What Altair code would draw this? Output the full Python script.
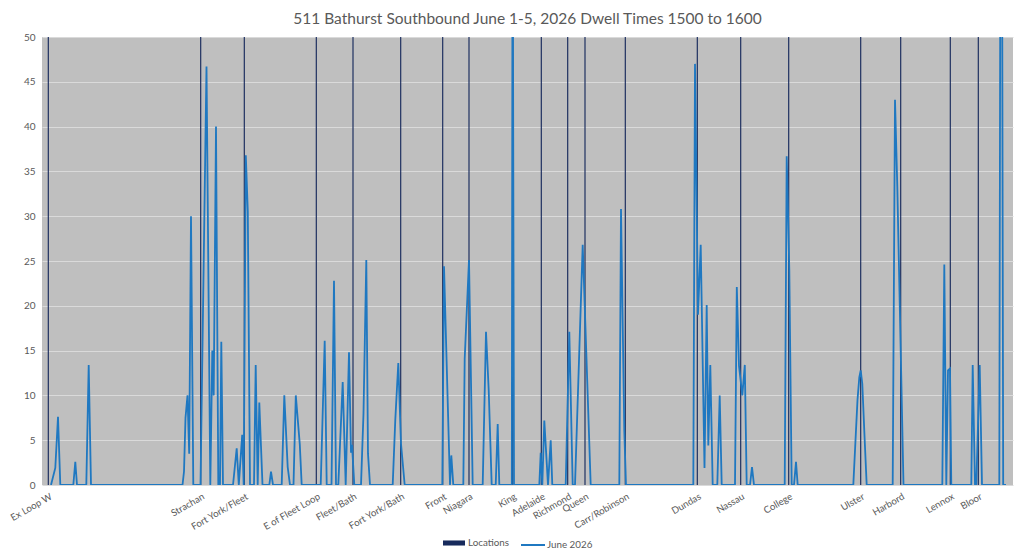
import altair as alt
import pandas as pd

title_text = "511 Bathurst Southbound June 1-5, 2026 Dwell Times 1500 to 1600"

# Locations along the route (position along the category axis)
location_names = ["Ex Loop W", "Strachan", "Fort York/Fleet", "E of Fleet Loop", "Fleet/Bath",
                  "Fort York/Bath", "Front", "Niagara", "King", "Adelaide", "Richmond", "Queen",
                  "Carr/Robinson", "Dundas", "Nassau", "College", "Ulster", "Harbord", "Lennox", "Bloor"]
location_pos = [6.3, 158.7, 202.3, 274.3, 311.0, 358.7, 400.7, 427.0, 470.7, 499.3, 525.7, 543.0,
                583.3, 655.3, 698.7, 746.7, 818.7, 858.7, 908.3, 936.3]

# June 2026 dwell times (seconds), vertices of the line
dwell_pos = [9, 13.3, 16, 18.3, 31.3, 33.3, 35, 44.3, 46.7, 49,
             140.5, 142, 143.5, 145.5, 147.2, 149, 151.3, 158.5, 164.5, 168.3,
             170.3, 171.7, 174, 176.3, 178, 179.3, 181, 191, 194.7, 196.8,
             200.2, 201.7, 203.8, 205.8, 208, 212, 213.7, 215.7, 217.3, 219,
             220.5, 227.3, 229, 231, 239.7, 242.3, 245.7, 248, 251.5, 253.8,
             257.8, 259.7, 278.7, 282.7, 284.7, 289.5, 292, 294, 296.3, 300.7,
             303.7, 307, 309, 310, 312.3, 319, 321.5, 324.3, 326, 328,
             350.7, 353.3, 356.3, 359, 362.7, 400.3, 402, 408, 409.3, 411.3,
             421.3, 422.7, 427, 430.7, 440.7, 444, 446.7, 449.7, 453.7, 455.7,
             457.3, 469.8, 470.6, 472, 497.3, 498.7, 500.3, 502.3, 506, 508.7,
             510.3, 523.7, 527.3, 530.7, 533, 540.7, 548.7, 577.3, 579, 582.3,
             584, 651.3, 653, 656, 658.7, 662.5, 664.7, 666.3, 668.3, 670.7,
             675.3, 677.7, 679.7, 693, 694.8, 697, 700.3, 702.8, 704.7, 708,
             710, 712, 742.7, 744.7, 747.3, 749.7, 752, 754, 755.7, 811.3,
             813.5, 815.5, 817.3, 818.7, 820.3, 822.5, 824.7, 850.7, 853, 855.3,
             861.5, 900.3, 902.3, 904.3, 906, 908, 909.3, 929.3, 930.7, 933,
             934.3, 937.7, 940, 957.3, 958.6, 959.8, 961.2, 964]
dwell_val = [0, 1.9, 7.6, 0, 0, 2.6, 0, 0, 13.4, 0,
             0, 1.5, 7.5, 10, 3.5, 30, 0, 0, 46.7, 0,
             15, 10, 40, 0, 0, 16, 0, 0, 4.1, 0,
             5.6, 0, 36.8, 30.5, 0, 0, 13.4, 0, 9.2, 4.3,
             0, 0, 1.5, 0, 0, 10, 2, 0, 0, 10,
             4.5, 0, 0, 16.1, 0, 0, 22.8, 0, 0, 11.5,
             0, 14.8, 3.6, 4.5, 0, 0, 8, 25.1, 3.5, 0,
             0, 7.3, 13.6, 4.6, 0, 0, 24.4, 0, 3.3, 0,
             0, 14.1, 25.1, 0, 0, 17.1, 10.6, 0, 0, 6.8,
             0, 0, 70, 0, 0, 3.6, 0, 7.2, 0, 5,
             0, 0, 17.1, 0, 0, 26.8, 0, 0, 30.8, 6,
             0, 0, 47, 19, 26.8, 1.9, 20.1, 4.4, 13.4, 0,
             0, 10, 0, 0, 22.1, 13.3, 10, 13.4, 0, 0,
             2, 0, 0, 36.7, 24, 0, 0, 2.6, 0, 0,
             5, 9.5, 12, 12.8, 11.3, 5.5, 0, 0, 43, 33.3,
             0, 0, 24.6, 0, 12.8, 13, 0, 0, 13.4, 0,
             0, 13.4, 0, 0, 75, 75, 0, 0]

y_ticks = [0, 5, 10, 15, 20, 25, 30, 35, 40, 45, 50]
location_series = "Locations"
dwell_series = "June 2026"

loc_df = pd.DataFrame({"pos": location_pos, "name": location_names, "loc_series": location_series})
dwell_df = pd.DataFrame({"pos": dwell_pos, "dwell": dwell_val, "line_series": dwell_series})

GREY_TEXT = "#595959"
FONT = "Lato"

x_scale = alt.Scale(domain=[0, 971], nice=False, zero=False, padding=0)
y_scale = alt.Scale(domain=[0, 50], nice=False, padding=0)

names_js = "[" + ",".join("'" + n + "'" for n in location_names) + "]"
pos_js = "[" + ",".join(str(p) for p in location_pos) + "]"
label_expr = f"{names_js}[indexof({pos_js}, datum.value)]"

x_axis = alt.Axis(title=None, values=location_pos, labelExpr=label_expr, labelAngle=-30,
                  labelAlign="right", labelBaseline="top", labelPadding=6, labelOverlap=False,
                  labelFlush=False, labelBound=False, ticks=False, domain=False, grid=False,
                  labelColor=GREY_TEXT, labelFont=FONT, labelFontSize=9.6)
y_axis = alt.Axis(title=None, values=y_ticks, ticks=False, domain=False, grid=True,
                  gridColor="#dadada", gridWidth=1, labelColor=GREY_TEXT, labelFont=FONT,
                  labelFontSize=10, labelPadding=7)

bars = alt.Chart(loc_df).mark_bar(size=1.15).encode(
    x=alt.X("pos:Q", scale=x_scale, axis=x_axis),
    y=alt.datum(50, scale=y_scale, axis=y_axis),
    fill=alt.Fill("loc_series:N",
                  scale=alt.Scale(domain=[location_series], range=["#172a5c"]),
                  legend=alt.Legend(title=None, orient="none", legendX=401, legendY=495,
                                    symbolType="M-1,-0.23H1V0.23H-1Z", symbolSize=484,
                                    symbolStrokeWidth=0, padding=0, labelOffset=3,
                                    labelColor=GREY_TEXT, labelFont=FONT, labelFontSize=9.8)),
)

line = alt.Chart(dwell_df).mark_line(clip=True, strokeWidth=1.8).encode(
    x=alt.X("pos:Q", scale=x_scale),
    y=alt.Y("dwell:Q", scale=y_scale),
    stroke=alt.Stroke("line_series:N",
                      scale=alt.Scale(domain=[dwell_series], range=["#1f78c1"]),
                      legend=alt.Legend(title=None, orient="none", legendX=478, legendY=495,
                                        symbolType="stroke", symbolSize=576, symbolStrokeWidth=2,
                                        padding=0, labelOffset=1,
                                        labelColor=GREY_TEXT, labelFont=FONT, labelFontSize=9.8)),
)

chart = alt.layer(bars, line).properties(
    width=971, height=448,
    title=alt.TitleParams(title_text, font=FONT, fontSize=15.5, fontWeight="normal",
                          color=GREY_TEXT, anchor="middle", offset=5),
    autosize=alt.AutoSizeParams(type="none"),
    padding={"left": 34, "top": 29, "right": 2, "bottom": 66},
).configure_view(fill="#bfbfbf", stroke="#bfbfbf", strokeWidth=0)

chart.save("out.html", embed_options={"renderer": "svg", "actions": False})
